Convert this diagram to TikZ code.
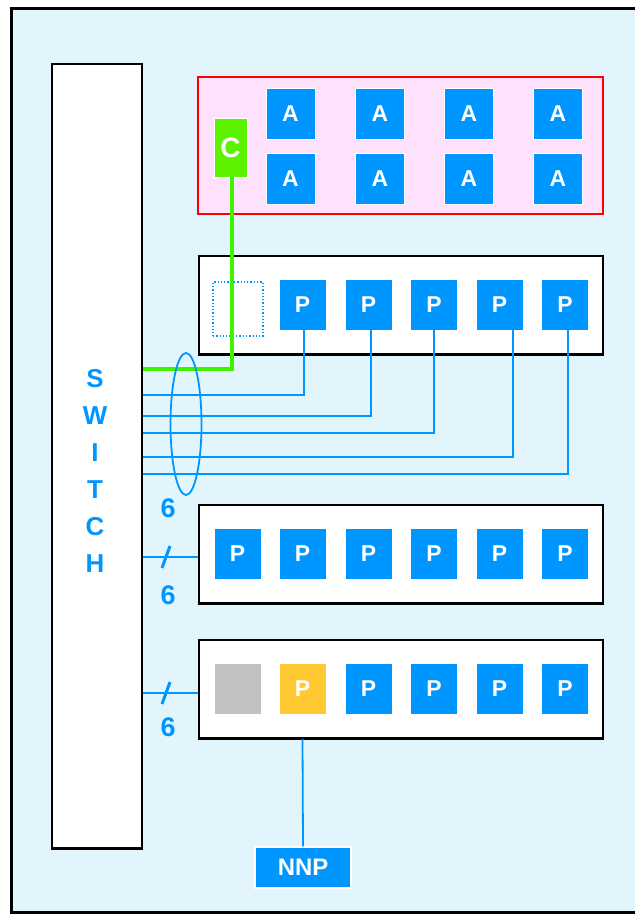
\documentclass[tikz,border=0pt]{standalone}
\usepackage{fontspec}
\setmainfont{Liberation Sans}
\definecolor{bgcyan}{HTML}{E2F5FD}
\definecolor{myblue}{HTML}{0096FF}
\definecolor{pinkfill}{HTML}{FDE1FD}
\definecolor{cgreen}{HTML}{5CF200}
\definecolor{lgreen}{HTML}{3EF200}
\definecolor{ygold}{HTML}{FFC832}
\definecolor{greybox}{HTML}{C2C2C2}
\tikzset{
  box/.style={draw=white, line width=0.8bp, minimum width=47bp, minimum height=51bp, inner sep=0pt, text=white, font=\bfseries\fontsize{23}{23}\selectfont},
  pbox/.style={box, fill=myblue},
  abox/.style={box, fill=myblue, minimum width=49bp},
  container/.style={draw=black, fill=white, line width=1.5bp, minimum width=404bp, minimum height=98bp, inner sep=0pt},
  wire/.style={draw=myblue, line width=1.8bp},
  lbl/.style={text=myblue, font=\bfseries\fontsize{27}{27}\selectfont, inner sep=0pt}
}
\begin{document}
\begin{tikzpicture}[x=1bp,y=-1bp]
\useasboundingbox (0,0) rectangle (634.8,915);
\fill[white] (-10,-10) rectangle (650,925);
% frame
\fill[bgcyan] (11.5,8.5) rectangle (650,912.5);
\draw[line width=3bp] (650,8.5) -- (11.5,8.5) -- (11.5,912.5) -- (650,912.5);
% switch
\node[draw=black, fill=white, line width=1.2bp, minimum width=90bp, minimum height=784bp, inner sep=0pt] (sw) at (97,456) {};
\draw[line width=2.5bp] (sw.south west) -- (sw.south east);
\node[text=myblue, font=\bfseries\fontsize{26}{37}\selectfont, align=center, inner sep=0pt] (swl) at (95,471) {S\\W\\I\\T\\C\\H};
% A group
\node[draw=red, fill=pinkfill, line width=1.5bp, minimum width=405bp, minimum height=137bp, inner sep=0pt] (agrp) at (400.5,145.5) {};
\node[fill=cgreen, draw=white, line width=0.8bp, minimum width=33bp, minimum height=59bp, inner sep=0pt, text=white, font=\bfseries\fontsize{28}{28}\selectfont] (cbox) at (230.5,147.5) {C};
\node[abox] (a11) at (290.5,113.5) {A};
\node[abox] (a12) at (380,113.5) {A};
\node[abox] (a13) at (469,113.5) {A};
\node[abox] (a14) at (558,113.5) {A};
\node[abox] (a21) at (290.5,178.5) {A};
\node[abox] (a22) at (380,178.5) {A};
\node[abox] (a23) at (469,178.5) {A};
\node[abox] (a24) at (558,178.5) {A};
% row 1
\node[container] (row1) at (401,305) {};
\draw[line width=3bp] (row1.south west) -- (row1.south east);
\node[draw=myblue, dotted, line width=1.3bp, minimum width=50bp, minimum height=54bp, inner sep=0pt] (dot1) at (238,309) {};
\node[pbox] (p12) at (302.5,304.5) {P};
\node[pbox] (p13) at (368.5,304.5) {P};
\node[pbox] (p14) at (434,304.5) {P};
\node[pbox] (p15) at (499.5,304.5) {P};
\node[pbox] (p16) at (565,304.5) {P};
% row 2
\node[container] (row2) at (401,554) {};
\draw[line width=3bp] (row2.south west) -- (row2.south east);
\node[pbox] (p21) at (237.5,554) {P};
\node[pbox] (p22) at (302.5,554) {P};
\node[pbox] (p23) at (368.5,554) {P};
\node[pbox] (p24) at (434,554) {P};
\node[pbox] (p25) at (499.5,554) {P};
\node[pbox] (p26) at (565,554) {P};
% row 3
\node[container] (row3) at (401,689) {};
\draw[line width=3bp] (row3.south west) -- (row3.south east);
\node[box, fill=greybox] (p31) at (237.5,689) {};
\node[pbox, fill=ygold] (p32) at (302.5,689) {P};
\node[pbox] (p33) at (368.5,689) {P};
\node[pbox] (p34) at (434,689) {P};
\node[pbox] (p35) at (499.5,689) {P};
\node[pbox] (p36) at (565,689) {P};
% NNP
\node[fill=myblue, draw=white, line width=1.5bp, minimum width=96bp, minimum height=41bp, inner sep=0pt, text=white, font=\bfseries\fontsize{24}{24}\selectfont] (nnp) at (303,867.5) {NNP};
% wires row 1
\coordinate (g) at (0,369);
\coordinate (h1) at (0,395);
\coordinate (h2) at (0,416);
\coordinate (h3) at (0,433);
\coordinate (h4) at (0,457);
\coordinate (h5) at (0,474);
\draw[draw=lgreen, line width=3.5bp] ([xshift=1.5bp]cbox.south) -- ([xshift=1.5bp]cbox.south |- g) -- (sw.east |- g);
\draw[wire] ([xshift=1.5bp]p12.south) -- ([xshift=1.5bp]p12.south |- h1) -- (sw.east |- h1);
\draw[wire] ([xshift=2.5bp]p13.south) -- ([xshift=2.5bp]p13.south |- h2) -- (sw.east |- h2);
\draw[wire] (p14.south) -- (p14.south |- h3) -- (sw.east |- h3);
\draw[wire] ([xshift=13.5bp]p15.south) -- ([xshift=13.5bp]p15.south |- h4) -- (sw.east |- h4);
\draw[wire] ([xshift=3bp]p16.south) -- ([xshift=3bp]p16.south |- h5) -- (sw.east |- h5);
\draw[wire] (186,424) ellipse [x radius=15.5, y radius=71];
\node[lbl] (n1) at (168,508) {6};
% wires row 2 and 3
\coordinate (r2) at (0,557);
\coordinate (r3) at (0,693);
\draw[wire] (sw.east |- r2) -- (row2.west |- r2);
\draw[wire] (sw.east |- r3) -- (row3.west |- r3);
\draw[draw=myblue, line width=3bp] (170,546) -- (162,568);
\draw[draw=myblue, line width=3bp] (170,682) -- (162,704);
\node[lbl] (n2) at (168,595) {6};
\node[lbl] (n3) at (168,727) {6};
\draw[wire] (p32.south |- row3.south) -- (nnp.north);
\end{tikzpicture}
\end{document}
